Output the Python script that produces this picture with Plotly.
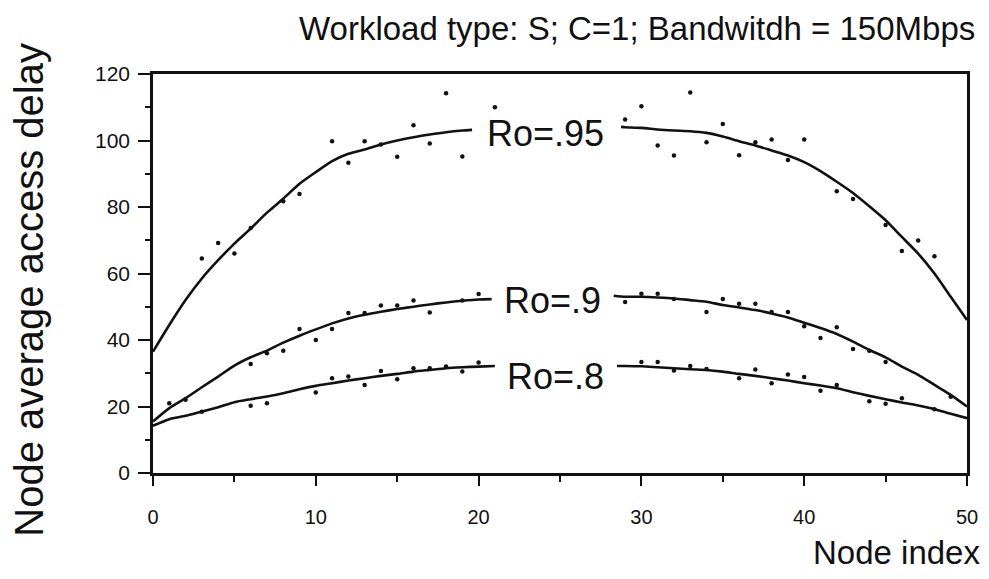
import plotly.graph_objects as go

# ---------------- data ----------------
# fitted curves (left segment before label, right segment after label)
c95_left_x = [0, 1, 2, 3, 4, 5, 6, 7, 8, 9, 10, 11, 12, 13, 14, 15, 16, 17, 18, 19, 19.6]
c95_left_y = [36.5, 44.5, 52, 58.5, 64, 69, 73.5, 78.3, 82.5, 87, 90.5, 93.8, 96, 97.3, 98.8, 100, 101, 101.8, 102.5, 103, 103.2]
c95_right_x = [28.75, 29, 30, 31, 32, 33, 34, 35, 36, 37, 38, 39, 40, 41, 42, 43, 44, 45, 46, 47, 48, 49, 50]
c95_right_y = [104.1, 104, 103.8, 103.3, 103, 102.8, 102.3, 101.2, 99.8, 98.5, 97, 95.5, 93.5, 90.8, 87.6, 84.2, 80.2, 76, 71, 66, 60, 53, 46]

c90_left_x = [0, 1, 2, 3, 4, 5, 6, 7, 8, 9, 10, 11, 12, 13, 14, 15, 16, 17, 18, 19, 20, 20.8]
c90_left_y = [15.5, 19.5, 22.5, 25.8, 29, 32.3, 34.8, 36.8, 39.2, 41.3, 43.2, 45, 46.5, 47.6, 48.5, 49.3, 50, 50.7, 51.3, 51.8, 52.2, 52.3]
c90_right_x = [28.3, 29, 30, 31, 32, 33, 34, 35, 36, 37, 38, 39, 40, 41, 42, 43, 44, 45, 46, 47, 48, 49, 50]
c90_right_y = [53.3, 53, 53, 52.8, 52.5, 52, 51.5, 50.5, 49.8, 49, 48, 46.8, 45.2, 43.6, 41.8, 39.5, 37, 34.8, 32, 29.5, 26.5, 23.5, 20]

c80_left_x = [0, 1, 2, 3, 4, 5, 6, 7, 8, 9, 10, 11, 12, 13, 14, 15, 16, 17, 18, 19, 20, 21]
c80_left_y = [14.2, 16.2, 17.2, 18.5, 19.8, 21.3, 22.2, 23, 24, 25.2, 26.2, 27, 27.8, 28.5, 29.2, 29.8, 30.5, 31, 31.5, 31.8, 32, 32.2]
c80_right_x = [28.5, 29, 30, 31, 32, 33, 34, 35, 36, 37, 38, 39, 40, 41, 42, 43, 44, 45, 46, 47, 48, 49, 50]
c80_right_y = [32.2, 32.2, 32.1, 31.8, 31.5, 31.2, 31, 30.5, 29.8, 29.2, 28.5, 27.8, 27, 26.3, 25.5, 24.3, 23.2, 22.2, 21.2, 20.3, 19.2, 17.8, 16.5]

# measured points (dots)
p95_x = [3, 4, 5, 6, 8, 9, 11, 12, 13, 14, 15, 16, 17, 18, 19, 21,
         29, 30, 31, 32, 33, 34, 35, 36, 37, 38, 39, 40, 42, 43, 45, 46, 47, 48]
p95_y = [64.5, 69.2, 66, 73.7, 81.7, 83.9, 99.8, 93.3, 99.8, 98.8, 95.1, 104.6, 99.1, 114.2, 95.2, 110,
         106.3, 110.3, 98.5, 95.5, 114.4, 99.5, 105, 95.6, 99.5, 100.3, 94.1, 100.3, 84.7, 82.4, 74.6, 66.8, 69.9, 65.2]

p90_x = [1, 2, 6, 7, 8, 9, 10, 11, 12, 13, 14, 15, 16, 17, 19, 20,
         29, 30, 31, 32, 34, 35, 36, 37, 38, 39, 40, 41, 42, 43, 44, 45, 49]
p90_y = [21, 22, 32.8, 36, 36.8, 43.3, 40, 43.3, 48.1, 48.1, 50.4, 50.4, 51.9, 48.3, 51.9, 53.8,
         51.4, 53.9, 53.9, 52.3, 48.4, 52.3, 50.9, 50.9, 48.4, 48.4, 44.1, 40.6, 43.8, 37.3, 36.8, 33.4, 22.9]

p80_x = [3, 6, 7, 10, 11, 12, 13, 14, 15, 16, 17, 18, 19, 20,
         30, 31, 32, 33, 34, 36, 37, 38, 39, 40, 41, 42, 44, 45, 46, 48]
p80_y = [18.4, 20.2, 21, 24.2, 28.5, 29, 26.5, 30.7, 28.2, 31.5, 31.5, 32, 30.5, 33.2,
         33.4, 33.4, 30.8, 32.2, 31.3, 28.5, 31.1, 27, 29.6, 28.9, 24.7, 26.5, 21.6, 20.8, 22.5, 19.2]

labels = ["Ro=.95", "Ro=.9", "Ro=.8"]
label_x = [24.1, 24.55, 24.7]
label_y = [102.0, 51.8, 29.0]

x_ticks = [0, 10, 20, 30, 40, 50]
y_ticks = [0, 20, 40, 60, 80, 100, 120]

title_text = "Workload type: S; C=1; Bandwitdh = 150Mbps"
x_title = "Node index"
y_title = "Node average access delay"

# ---------------- figure ----------------
FONT = "Liberation Sans, Arial, sans-serif"
fig = go.Figure()

curves = [(c95_left_x, c95_left_y), (c95_right_x, c95_right_y),
          (c90_left_x, c90_left_y), (c90_right_x, c90_right_y),
          (c80_left_x, c80_left_y), (c80_right_x, c80_right_y)]
for cx, cy in curves:
    fig.add_trace(go.Scatter(x=cx, y=cy, mode="lines",
                             line=dict(color="#111111", width=2.6, shape="spline", smoothing=0.6),
                             showlegend=False, hoverinfo="skip"))

for px, py in [(p95_x, p95_y), (p90_x, p90_y), (p80_x, p80_y)]:
    fig.add_trace(go.Scatter(x=px, y=py, mode="markers",
                             marker=dict(color="#111111", size=4.5, symbol="circle", line=dict(width=0)),
                             showlegend=False))

for t, lx, ly in zip(labels, label_x, label_y):
    fig.add_annotation(x=lx, y=ly, xref="x", yref="y", text=t, showarrow=False,
                       font=dict(family=FONT, size=36, color="#111111"),
                       xanchor="center", yanchor="middle")

fig.add_annotation(x=1.012, y=1.115, xref="paper", yref="paper", text=title_text,
                   showarrow=False, xanchor="right", yanchor="middle",
                   font=dict(family=FONT, size=33, color="#111111"))
fig.add_annotation(x=1.018, y=-0.2, xref="paper", yref="paper", text=x_title,
                   showarrow=False, xanchor="right", yanchor="middle",
                   font=dict(family=FONT, size=33, color="#111111"))
fig.add_annotation(x=-0.152, y=0.46, xref="paper", yref="paper", text=y_title,
                   showarrow=False, xanchor="center", yanchor="middle", textangle=-90,
                   font=dict(family=FONT, size=40, color="#111111"))

fig.update_xaxes(range=[0, 50], tickvals=x_ticks, ticks="outside", ticklen=10, tickwidth=2,
                 tickcolor="#111111", showline=True, linecolor="#111111", linewidth=2.5,
                 mirror=True, showgrid=False, zeroline=False, ticklabelstandoff=14,
                 tickfont=dict(family=FONT, size=20, color="#111111"),
                 minor=dict(dtick=5, ticks="outside", ticklen=6, tickwidth=1.5, tickcolor="#111111"))
fig.update_yaxes(range=[0, 120], tickvals=y_ticks, ticks="outside", ticklen=12, tickwidth=2,
                 tickcolor="#111111", showline=True, linecolor="#111111", linewidth=2.5,
                 mirror=True, showgrid=False, zeroline=False, ticklabelstandoff=4,
                 tickfont=dict(family=FONT, size=21, color="#111111"),
                 minor=dict(dtick=10, ticks="outside", ticklen=5, tickwidth=1.5, tickcolor="#111111"))

fig.update_layout(width=989, height=579, plot_bgcolor="white", paper_bgcolor="white",
                  margin=dict(l=153, r=22, t=74, b=106), showlegend=False)

fig.write_html("out.html")
